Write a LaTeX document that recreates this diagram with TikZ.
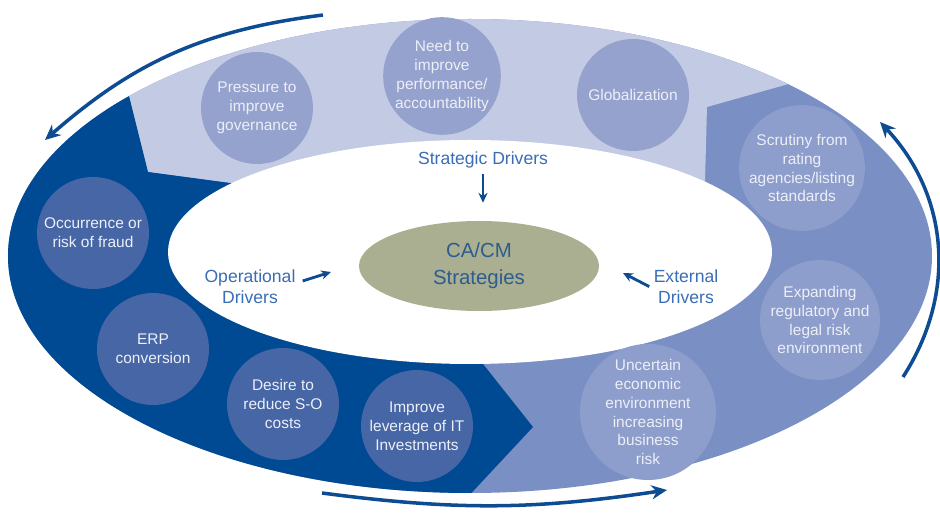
\documentclass[tikz,border=0pt]{standalone}
\usepackage{fontspec}
\setmainfont{Liberation Sans}
\usetikzlibrary{shapes, arrows.meta, positioning}

\definecolor{ringlight}{HTML}{C3CBE4}
\definecolor{ringdark}{HTML}{004A94}
\definecolor{ringmid}{HTML}{7A8FC4}
\definecolor{dotlight}{HTML}{95A2CD}
\definecolor{dotdark}{HTML}{4666A6}
\definecolor{dotmid}{HTML}{8D9DCC}
\definecolor{dottext}{HTML}{EDEFF7}
\definecolor{coresage}{HTML}{A9AF90}
\definecolor{coretext}{HTML}{2E5C8F}
\definecolor{drvtext}{HTML}{3A6DB5}
\definecolor{flow}{HTML}{0D4C93}

\tikzstyle{bubble} = [circle, inner sep=0pt, minimum size=2.8cm, align=center, text=dottext, font=\fontsize{11}{13.5}\selectfont]
\tikzstyle{core} = [ellipse, inner sep=0pt, minimum width=6cm, minimum height=2.25cm, fill=coresage, align=center, text=coretext, font=\fontsize{14.5}{19}\selectfont]
\tikzstyle{drvlabel} = [align=center, inner sep=0pt, text=drvtext, font=\fontsize{12.5}{15}\selectfont]
\tikzstyle{drvline} = [draw=flow, line width=2pt, -{Stealth[length=7pt,width=6.5pt]}]
\tikzstyle{turnarrow} = [draw=flow, line width=2.5pt, -{Stealth[length=11pt,width=10pt]}]

\begin{document}
\begin{tikzpicture}
	\useasboundingbox (-11.75,-6.45) rectangle (11.75,6.4);

	% ring: external drivers underneath, strategic and operational cut on top
	\fill [ringmid] (0,0) ellipse (11.55 and 5.925);
	\begin{scope}
		\clip (0,0) ellipse (11.55 and 5.925);
		\fill [ringlight] (-8.8,5.1) -- (-8.5,3.9) -- (-8.05,2.1) -- (-6,1.825) -- (0,0) -- (5.875,1.85) -- (5.925,3.725) -- (7.875,4.275) -- (9.8,4.82) -- (9.8,7) -- (-8.8,7) -- cycle;
		\fill [ringdark] (-8.8,5.1) -- (-8.5,3.9) -- (-8.05,2.1) -- (-6,1.825) -- (0,0) -- (0.325,-2.7) -- (1.575,-4.275) -- (0.175,-5.775) -- (-0.5,-6.5) -- (-12,-6.5) -- (-12,5.1) -- cycle;
	\end{scope}
	\fill [white] (0,0.1) ellipse (7.55 and 2.8);

	% strategic
	\node [bubble, fill=dotlight] (gov) at (-5.325,3.7) {Pressure to\\improve\\governance};
	\node [bubble, fill=dotlight, minimum size=2.7cm] (perf) at (-0.7,4.5) {Need to\\improve\\performance/\\accountability};
	\node [bubble, fill=dotlight] (glob) at (4.075,4.025) {Globalization};

	% external
	\node [bubble, fill=dotmid, minimum size=2.95cm] (scrut) at (8.3,2.2) {Scrutiny from\\rating\\agencies/listing\\standards};
	\node [bubble, fill=dotmid, minimum size=3cm] (expand) at (8.75,-1.6) {Expanding\\regulatory and\\legal risk\\environment};
	\node [bubble, fill=dotmid, minimum size=3.1cm] (uncert) at (4.45,-3.9) {Uncertain\\economic\\environment\\increasing\\business\\risk};

	% operational
	\node [bubble, fill=dotdark] (lever) at (-1.325,-4.25) {Improve\\leverage of IT\\Investments};
	\node [bubble, fill=dotdark] (desire) at (-4.675,-3.7) {Desire to\\reduce S-O\\costs};
	\node [bubble, fill=dotdark] (erp) at (-7.925,-2.325) {ERP\\conversion};
	\node [bubble, fill=dotdark] (fraud) at (-9.425,0.575) {Occurrence or\\risk of fraud};

	% centre
	\node [core] (core) at (0.225,-0.25) {CA/CM\\Strategies};
	\node [drvlabel] (strat) at (0.325,2.4) {Strategic Drivers};
	\node [drvlabel] (oper) at (-5.5,-0.775) {Operational\\Drivers};
	\node [drvlabel] (ext) at (5.4,-0.775) {External\\Drivers};

	\coordinate (oper-to) at (-3.475,-0.4);
	\coordinate (ext-to) at (3.825,-0.425);
	\draw [drvline, shorten <=4pt, shorten >=0.45cm] (strat.south) -- (strat.south |- core.north);
	\draw [drvline] ([xshift=5pt,yshift=-8pt]oper.north east) -- (oper-to);
	\draw [drvline] ([xshift=-3pt,yshift=-12pt]ext.north west) -- (ext-to);

	% cycle arrows round the ring
	\coordinate (top-a) at (-3.675,6.025);
	\coordinate (top-b) at (-10.625,2.9);
	\coordinate (bot-a) at (-3.7,-5.925);
	\coordinate (bot-b) at (4.925,-5.85);
	\coordinate (rgt-a) at (10.825,-3.025);
	\coordinate (rgt-b) at (10.25,3.35);
	\draw [turnarrow] (top-a) to [bend right=17] (top-b);
	\draw [turnarrow] (bot-a) to [bend right=8] (bot-b);
	\draw [turnarrow] (rgt-a) to [bend right=38] (rgt-b);
\end{tikzpicture}
\end{document}
